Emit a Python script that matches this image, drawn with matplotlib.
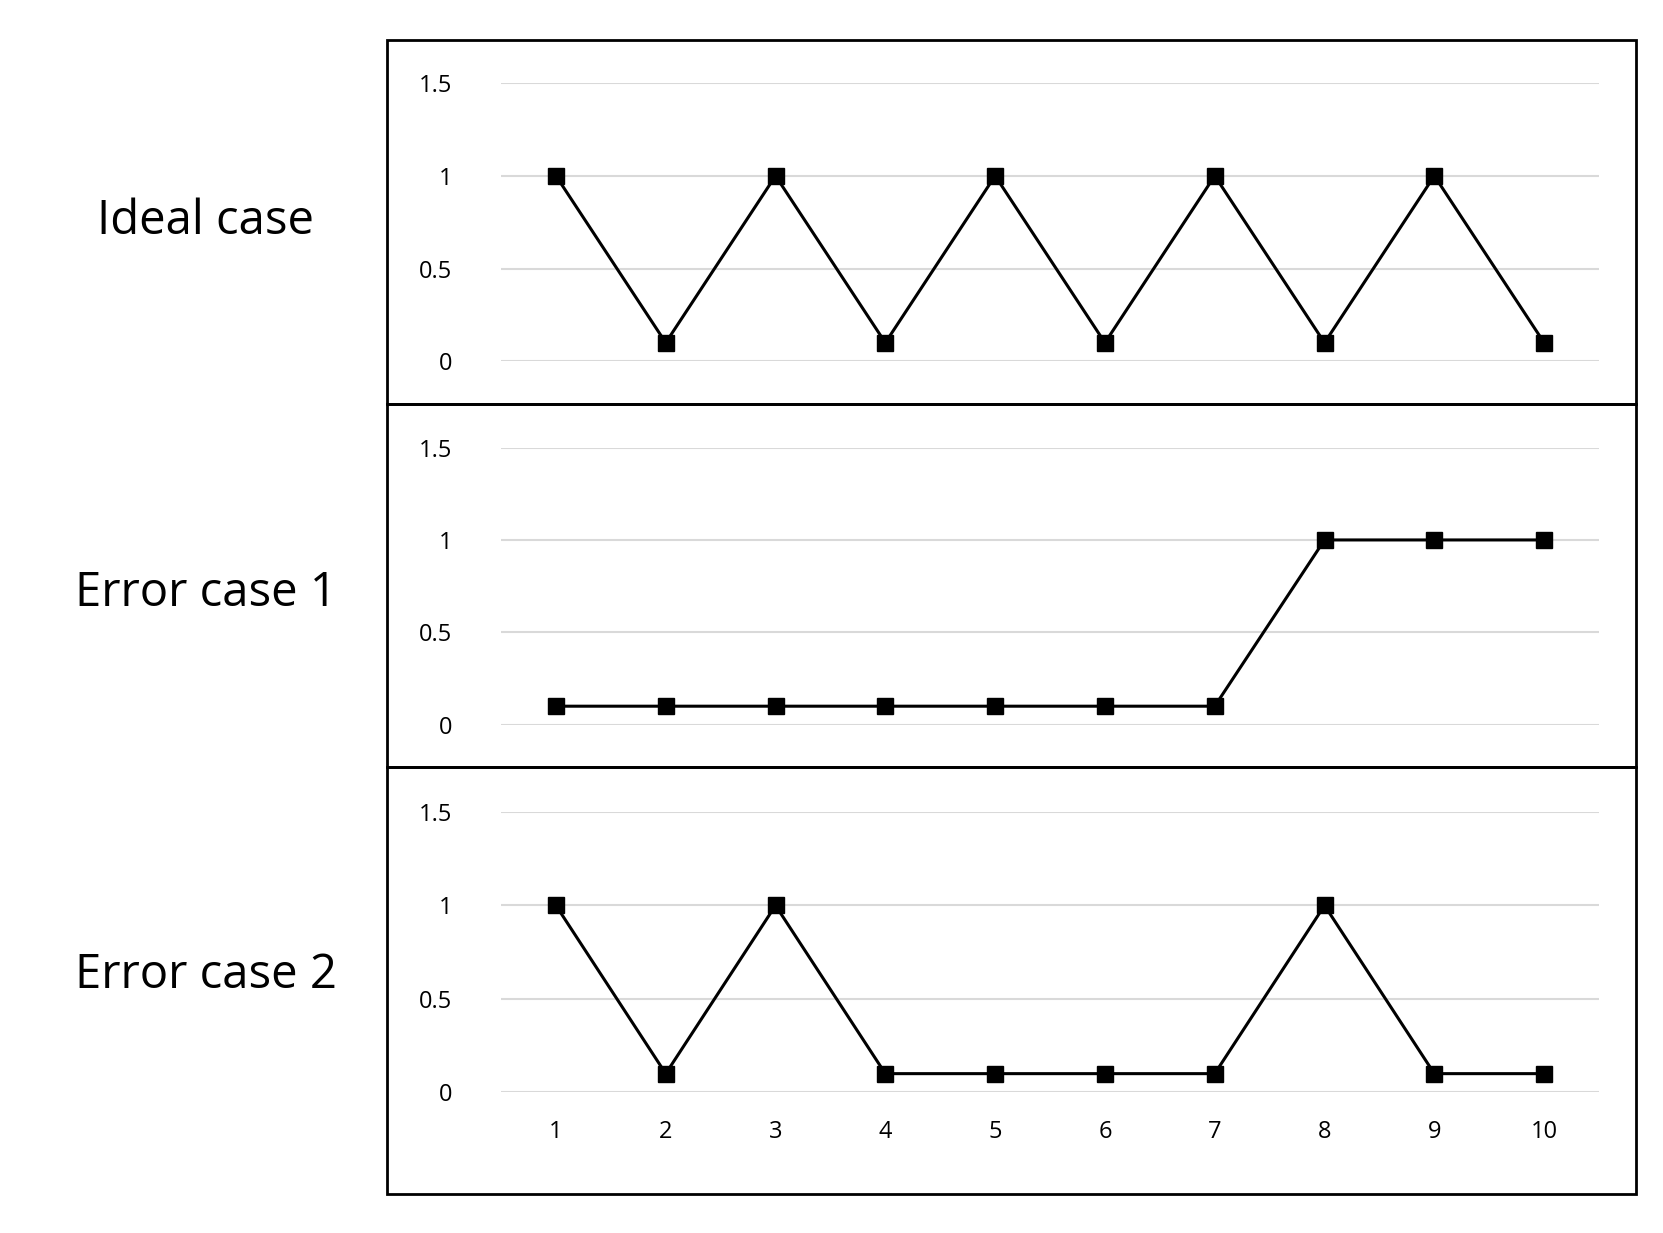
import matplotlib.pyplot as plt
from matplotlib.patches import Rectangle

x = list(range(1, 11))
ideal = [1, 0.1, 1, 0.1, 1, 0.1, 1, 0.1, 1, 0.1]
error1 = [0.1, 0.1, 0.1, 0.1, 0.1, 0.1, 0.1, 1, 1, 1]
error2 = [1, 0.1, 1, 0.1, 0.1, 0.1, 0.1, 1, 0.1, 0.1]
labels = ["Ideal case", "Error case 1", "Error case 2"]
series = [ideal, error1, error2]

plt.rcParams['font.family'] = ['Open Sans', 'DejaVu Sans']
W, H = 1560, 1157
fig = plt.figure(figsize=(16.63, 12.33), dpi=100)

def fx(px):
    return px / W

def fy(py):
    return 1 - py / H

# panel boxes: (top, bottom, y of 1.5, y of 0, label y)
panels = [(38, 379, 78, 339, 208), (379, 720, 420, 680, 557), (720, 1120, 762, 1025, 915)]
for i, (top, bot, y15, y0, ly) in enumerate(panels):
    fig.add_artist(Rectangle((fx(363), fy(bot)), fx(1535) - fx(363), fy(top) - fy(bot),
                             transform=fig.transFigure, fill=False, lw=2, ec='black'))
    ax = fig.add_axes([fx(470), fy(y0), fx(1500) - fx(470), fy(y15) - fy(y0)])
    ax.set_xlim(0.5, 10.5)
    ax.set_ylim(0, 1.5)
    ax.set_yticks([0, 0.5, 1, 1.5])
    ax.set_yticklabels(['0', '0.5', '1', '1.5'])
    ax.grid(axis='y', color='#d9d9d9', lw=1.5)
    ax.set_axisbelow(True)
    for s in ax.spines.values():
        s.set_visible(False)
    ax.tick_params(length=0, labelsize=17, pad=35)
    ax.plot(x, series[i], color='black', lw=2.2, marker='s', ms=11)
    if i == 2:
        ax.set_xticks(x)
        ax.tick_params(axis='x', pad=20)
    else:
        ax.set_xticks([])
    fig.text(fx(193), fy(ly), labels[i], fontsize=34, ha='center', va='center')

fig.savefig('out.png', dpi=100)
